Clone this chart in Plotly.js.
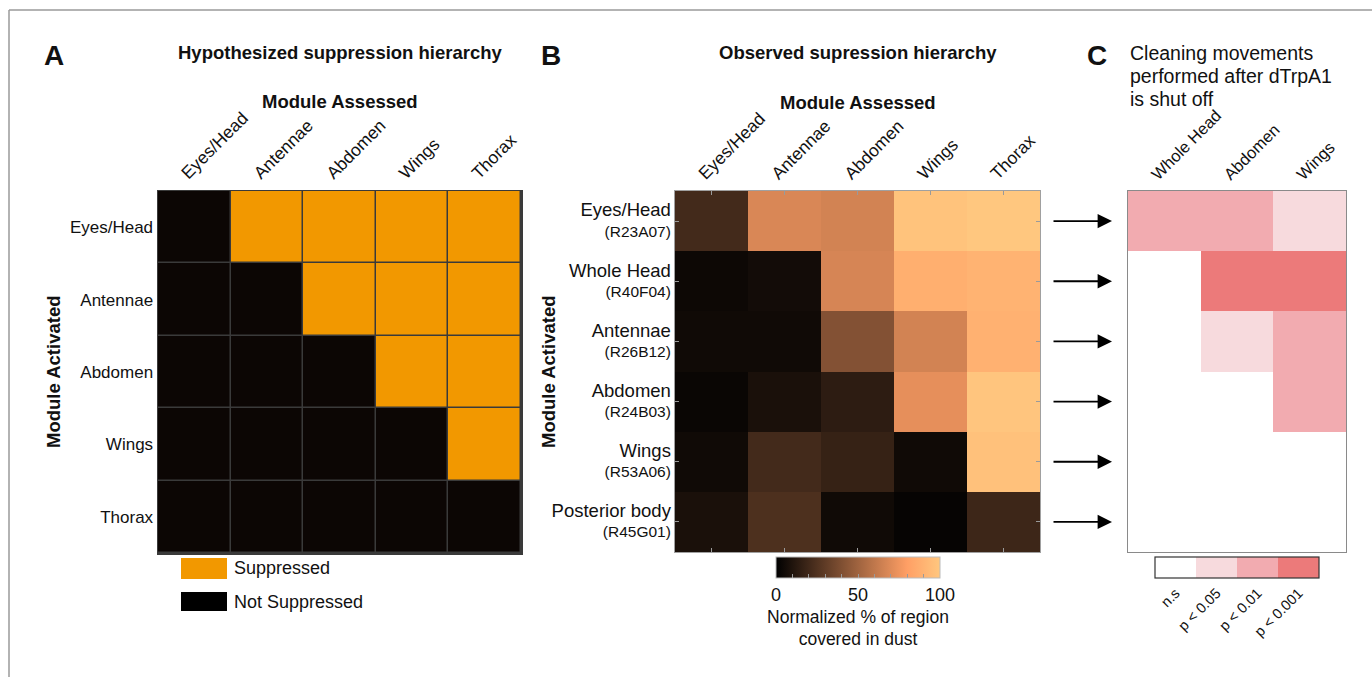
<!DOCTYPE html>
<html>
<head>
<meta charset="utf-8">
<script src="https://cdn.plot.ly/plotly-3.0.1.min.js"></script>
<style>html,body{margin:0;padding:0;background:#fff;}#chart{width:1372px;height:677px;}</style>
</head>
<body>
<div id="chart"></div>
<script>
// ---------- DATA ----------
const hypCols = ['Eyes/Head', 'Antennae', 'Abdomen', 'Wings', 'Thorax'];
const hypRows = ['Eyes/Head', 'Antennae', 'Abdomen', 'Wings', 'Thorax'];
// 1 = Suppressed, 0 = Not Suppressed
const hypSuppressed = [
  [0, 1, 1, 1, 1],
  [0, 0, 1, 1, 1],
  [0, 0, 0, 1, 1],
  [0, 0, 0, 0, 1],
  [0, 0, 0, 0, 0]
];
const legendLabels = ['Suppressed', 'Not Suppressed'];

const obsCols = ['Eyes/Head', 'Antennae', 'Abdomen', 'Wings', 'Thorax'];
const obsRows = ['Eyes/Head', 'Whole Head', 'Antennae', 'Abdomen', 'Wings', 'Posterior body'];
const obsLines = ['R23A07', 'R40F04', 'R26B12', 'R24B03', 'R53A06', 'R45G01'];
// Normalized % of region covered in dust
const dustPct = [
  [21, 68, 66, 98, 100],
  [4, 6, 67, 88, 90],
  [5, 5, 41, 66, 89],
  [3, 8, 14, 72, 99],
  [5, 21, 17, 5, 97],
  [8, 24, 5, 2, 19]
];
const dustTicks = [0, 10, 20, 30, 40, 50, 60, 70, 80, 90, 100];
const dustTickLabels = ['0', '', '', '', '', '50', '', '', '', '', '100'];

const cleanCols = ['Whole Head', 'Abdomen', 'Wings'];
// 0 = n.s, 1 = p<0.05, 2 = p<0.01, 3 = p<0.001
const sigLevel = [
  [2, 2, 1],
  [0, 3, 3],
  [0, 1, 2],
  [0, 0, 2],
  [0, 0, 0],
  [0, 0, 0]
];
const sigLabels = ['n.s', 'p < 0.05', 'p < 0.01', 'p < 0.001'];
const sigValues = [0, 1, 2, 3];

// ---------- STYLE ----------
const W = 1372, H = 677;
const px = v => v / W;
const py = v => 1 - v / H;
const FONT = 'Liberation Sans, Arial, Helvetica, sans-serif';
const INK = '#111111';
const orange = '#f29800', black = '#0c0604';
const sigColors = ['#ffffff', '#f7dadd', '#f2abb0', '#ec7a7a'];

function discreteScale(colors) {
  const n = colors.length, out = [];
  colors.forEach((c, i) => { out.push([i / n, c]); out.push([(i + 1) / n, c]); });
  return out;
}

const traces = [
  {
    type: 'heatmap', x: hypCols, y: hypRows, z: hypSuppressed,
    zmin: 0, zmax: 1, colorscale: discreteScale([black, orange]),
    showscale: false, xgap: 1.5, ygap: 1.5, xaxis: 'x', yaxis: 'y', hoverinfo: 'skip'
  },
  {
    type: 'heatmap', x: obsCols, y: obsRows, z: dustPct,
    zmin: 0, zmax: 100,
    colorscale: [[0, 'rgb(0,0,0)'], [0.8, 'rgb(255,159,101)'], [1, 'rgb(255,199,127)']],
    xaxis: 'x2', yaxis: 'y2', hoverinfo: 'skip',
    colorbar: {
      orientation: 'h', x: px(858), xanchor: 'center', y: py(557), yanchor: 'top',
      len: 164, lenmode: 'pixels', thickness: 21, thicknessmode: 'pixels',
      xpad: 0, ypad: 0, outlinewidth: 1, outlinecolor: '#bbbbbb',
      tickmode: 'array', tickvals: dustTicks, ticktext: dustTickLabels,
      ticks: 'inside', ticklen: 4, tickcolor: '#999999',
      tickfont: { family: FONT, size: 18, color: INK },
      title: { text: 'Normalized % of region<br>covered in dust', side: 'bottom', font: { family: FONT, size: 17.5, color: INK } }
    }
  },
  {
    type: 'heatmap', x: cleanCols, y: obsRows, z: sigLevel,
    zmin: -0.5, zmax: 3.5, colorscale: discreteScale(sigColors),
    xaxis: 'x3', yaxis: 'y3', hoverinfo: 'skip',
    colorbar: {
      orientation: 'h', x: px(1237), xanchor: 'center', y: py(557), yanchor: 'top',
      len: 164, lenmode: 'pixels', thickness: 21, thicknessmode: 'pixels',
      xpad: 0, ypad: 0, outlinewidth: 1.2, outlinecolor: '#333333',
      tickmode: 'array', tickvals: sigValues, ticktext: sigLabels, tickangle: -45,
      ticks: '', tickfont: { family: FONT, size: 14.5, color: INK }
    }
  }
];

const yDom = [py(552), py(191)];
const baseAx = { showgrid: false, zeroline: false, fixedrange: true, showline: true, mirror: true };

const obsTickText = obsRows.map((r, i) =>
  '<span style="font-size:18.5px">' + r + '</span><br>(' + obsLines[i] + ')');

const annotations = [];
function label(text, x, y, size, opts) {
  annotations.push(Object.assign({
    text: text, x: px(x), y: py(y), xref: 'paper', yref: 'paper', showarrow: false,
    xanchor: 'center', yanchor: 'middle', font: { family: FONT, size: size, color: INK }
  }, opts || {}));
}
label('<b>A</b>', 54, 55, 28);
label('<b>B</b>', 551, 55, 28);
label('<b>C</b>', 1097, 55, 28);
label('<b>Hypothesized suppression hierarchy</b>', 340, 52, 18.5);
label('<b>Module Assessed</b>', 340, 101, 18.5);
label('<b>Observed supression hierarchy</b>', 858, 52, 18.5);
label('<b>Module Assessed</b>', 858, 102, 18.5);
label('<b>Module Activated</b>', 53, 372, 18.5, { textangle: -90 });
label('<b>Module Activated</b>', 548, 372, 18.5, { textangle: -90 });
['Cleaning movements', 'performed after dTrpA1', 'is shut off'].forEach((t, i) =>
  label(t, 1128, 53 + i * 23, 19.5, { xanchor: 'left' }));
// legend for panel A
label(legendLabels[0], 232, 568, 18, { xanchor: 'left' });
label(legendLabels[1], 232, 602, 18, { xanchor: 'left' });
// arrows linking panel B rows to panel C rows
obsRows.forEach((r, i) => {
  annotations.push({
    x: px(1112), xref: 'paper', y: i, yref: 'y2', ax: -60, ay: 0, axref: 'pixel', ayref: 'pixel',
    text: '', showarrow: true, arrowhead: 2, arrowsize: 1.6, arrowwidth: 1.8, arrowcolor: '#000000'
  });
});

const shapes = [
  { type: 'rect', xref: 'paper', yref: 'paper', x0: px(181), x1: px(227), y0: py(579), y1: py(558), fillcolor: orange, line: { width: 0 } },
  { type: 'rect', xref: 'paper', yref: 'paper', x0: px(181), x1: px(227), y0: py(611), y1: py(592), fillcolor: '#000000', line: { width: 0 } },
  // figure frame
  { type: 'line', xref: 'paper', yref: 'paper', x0: px(9), x1: 1.05, y0: py(10), y1: py(10), line: { color: '#9a9a9a', width: 1.5 } },
  { type: 'line', xref: 'paper', yref: 'paper', x0: px(9), x1: px(9), y0: py(10), y1: -0.05, line: { color: '#9a9a9a', width: 1.5 } }
];

const layout = {
  width: W, height: H, margin: { l: 0, r: 0, t: 0, b: 0 },
  paper_bgcolor: '#ffffff', plot_bgcolor: '#3a3a3a',
  font: { family: FONT, color: INK },
  showlegend: false,
  xaxis: Object.assign({}, baseAx, {
    domain: [px(158), px(521)], anchor: 'y', side: 'top', tickangle: -45, ticks: '',
    ticklabelshift: -12,
    linecolor: '#3a3a3a', linewidth: 1.5, tickfont: { family: FONT, size: 17.5, color: INK }
  }),
  yaxis: Object.assign({}, baseAx, {
    domain: [py(553), py(191)], anchor: 'x', autorange: 'reversed', ticks: '',
    linecolor: '#3a3a3a', linewidth: 1.5, tickfont: { family: FONT, size: 17, color: INK }
  }),
  xaxis2: Object.assign({}, baseAx, {
    domain: [px(675), px(1040)], anchor: 'y2', side: 'top', tickangle: -45,
    ticks: 'inside', ticklen: 4, tickcolor: '#9a9a9a', mirror: 'ticks', ticklabelshift: -12,
    linecolor: '#a0a0a0', linewidth: 1, tickfont: { family: FONT, size: 17.5, color: INK }
  }),
  yaxis2: Object.assign({}, baseAx, {
    domain: yDom, anchor: 'x2', autorange: 'reversed',
    ticks: 'inside', ticklen: 4, tickcolor: '#9a9a9a', mirror: 'ticks',
    tickmode: 'array', tickvals: obsRows, ticktext: obsTickText,
    linecolor: '#a0a0a0', linewidth: 1, tickfont: { family: FONT, size: 15.5, color: INK }
  }),
  xaxis3: Object.assign({}, baseAx, {
    domain: [px(1128), px(1346)], anchor: 'y3', side: 'top', tickangle: -45, ticks: '',
    ticklabelshift: -12,
    linecolor: '#8a8a8a', linewidth: 1, tickfont: { family: FONT, size: 16.5, color: INK }
  }),
  yaxis3: Object.assign({}, baseAx, {
    domain: yDom, anchor: 'x3', autorange: 'reversed', showticklabels: false, ticks: '',
    linecolor: '#8a8a8a', linewidth: 1
  }),
  annotations: annotations,
  shapes: shapes
};

Plotly.newPlot('chart', traces, layout, { staticPlot: true, displayModeBar: false });
</script>
</body>
</html>
